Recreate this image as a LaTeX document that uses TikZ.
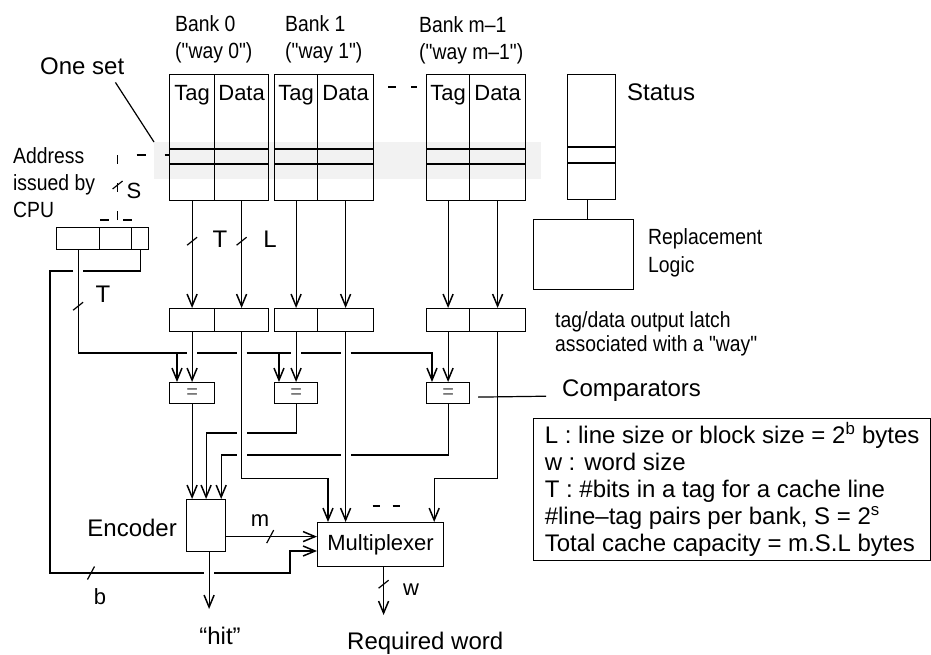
\documentclass[tikz,border=0pt]{standalone}
\usepackage{fontspec}
\setmainfont{Liberation Sans}
\newfontfamily\narrowfont[FakeStretch=0.88]{Liberation Sans}
\usetikzlibrary{positioning, arrows.meta, calc}

\tikzset{
  wire/.style={line width=1.2pt},
  arr/.style={wire, -{Straight Barb[length=12pt, width=10pt, line width=1.5pt]}},
  cell/.style={draw, line width=1.2pt, inner sep=0pt, anchor=north west},
  bankcol/.style={cell, minimum height=126pt},
  latch/.style={cell, minimum height=23pt},
  cmp/.style={cell, minimum height=21pt, font=\fontsize{20}{20}\selectfont, text=black!65},
  colhead/.style={anchor=north, yshift=-11pt, inner sep=0pt, font=\fontsize{22}{22}\selectfont},
  lbl/.style={inner sep=0pt, font=\fontsize{24}{27}\selectfont},
  slbl/.style={inner sep=0pt, font=\fontsize{22}{22}\selectfont},
  nlbl/.style={inner sep=0pt, align=left, font=\narrowfont\fontsize{22}{27}\selectfont},
  band/.style={fill=black!5, inner sep=0pt, anchor=north west},
  seldash/.style={wire, dash pattern=on 9pt off 19pt},
  vmark/.pic={\draw[wire] (-5,4) -- (5,-4);},
  hmark/.pic={\draw[wire] (-3.5,6.5) -- (3.5,-6.5);}
}

\begin{document}
\begin{tikzpicture}[x=1pt, y=-1pt]
  \useasboundingbox (0,0) rectangle (931,655);

  % one set across the banks
  \node[band, minimum width=387pt, minimum height=37pt] (set) at (154,142) {};

  % cache banks
  \node[bankcol, minimum width=45pt, label={[colhead]north:Tag}]  (tag0)  at (169,74) {};
  \node[bankcol, minimum width=54pt, label={[colhead]north:Data}] (data0) at (214,74) {};
  \node[bankcol, minimum width=43pt, label={[colhead]north:Tag}]  (tag1)  at (274,74) {};
  \node[bankcol, minimum width=56pt, label={[colhead]north:Data}] (data1) at (317,74) {};
  \node[bankcol, minimum width=43pt, label={[colhead]north:Tag}]  (tagm)  at (426,74) {};
  \node[bankcol, minimum width=56pt, label={[colhead]north:Data}] (datam) at (469,74) {};
  \foreach \b in {0,1,m}
    \foreach \y in {149,164}
      \draw[wire] (tag\b.west |- 0,\y) -- (data\b.east |- 0,\y);

  \node[nlbl, anchor=north west] (bank0lbl) at (175,15) {Bank 0\\("way 0")};
  \node[nlbl, anchor=north west] (bank1lbl) at (285,15) {Bank 1\\("way 1")};
  \node[nlbl, anchor=north west] (bankmlbl) at (419,16) {Bank m–1\\("way m–1")};
  \node[lbl, anchor=base west] (setlbl) at (40,75) {One set};

  % status and replacement
  \node[cell, minimum width=48pt, minimum height=125pt] (status) at (567,74) {};
  \foreach \y in {147,163}
    \draw[wire] (status.west |- 0,\y) -- (status.east |- 0,\y);
  \node[cell, minimum width=100pt, minimum height=70pt] (repl) at (533,219) {};
  \node[lbl, anchor=base west] (statuslbl) at (627,101) {Status};
  \node[nlbl, anchor=north west, font=\narrowfont\fontsize{22}{28}\selectfont] (repllbl) at (648,228) {Replacement\\Logic};

  % address register
  \node[cell, minimum width=43pt, minimum height=22pt] (addrT) at (56,227) {};
  \node[cell, minimum width=32pt, minimum height=22pt] (addrS) at (99,227) {};
  \node[cell, minimum width=17pt, minimum height=22pt] (addrB) at (131,227) {};
  \node[nlbl, anchor=north west] (addrlbl) at (13,147) {Address\\issued by\\CPU};

  % output latches
  \node[latch, minimum width=45pt] (ltag0)  at (169,308) {};
  \node[latch, minimum width=54pt] (ldata0) at (214,308) {};
  \node[latch, minimum width=43pt] (ltag1)  at (274,308) {};
  \node[latch, minimum width=56pt] (ldata1) at (317,308) {};
  \node[latch, minimum width=43pt] (ltagm)  at (426,308) {};
  \node[latch, minimum width=56pt] (ldatam) at (469,308) {};
  \node[nlbl, anchor=north west, font=\narrowfont\fontsize{22}{24}\selectfont] (latchlbl) at (555,311) {tag/data output latch\\associated with a "way"};

  % comparators
  \node[cmp, minimum width=45pt] (comp0) at (169,382) {=};
  \node[cmp, minimum width=43pt] (comp1) at (274,382) {=};
  \node[cmp, minimum width=43pt] (compm) at (426,382) {=};
  \node[lbl, anchor=base west] (cmplbl) at (562,396) {Comparators};

  % encoder and multiplexer
  \node[cell, minimum width=39pt, minimum height=52pt] (enc) at (186,499) {};
  \node[cell, minimum width=126pt, minimum height=44pt, font=\fontsize{22}{22}\selectfont] (mux) at (317,522) {Multiplexer};
  \node[lbl, anchor=base east] (enclbl) at (177,536) {Encoder};
  \node[lbl, anchor=north] (hitlbl) at (220,627) {“hit”};
  \node[lbl, anchor=north west] (reqlbl) at (347,632) {Required word};

  % legend
  \node[cell, align=left, minimum width=397pt, minimum height=142pt, font=\fontsize{24}{27}\selectfont] (legend) at (533,418) {L : line size or block size = 2\textsuperscript{b} bytes\\
    w : word size\\
    T : \#bits in a tag for a cache line\\
    \#line–tag pairs per bank, S = 2\textsuperscript{s}\\
    Total cache capacity = m.S.L bytes};

  % bus widths
  \node[lbl] (tlbl) at (220,239) {T};
  \node[lbl] (llbl) at (270,239) {L};
  \node[lbl] (taddrlbl) at (103,294) {T};
  \node[slbl] (slbl) at (134,191) {S};
  \node[slbl] (blbl) at (100,597) {b};
  \node[slbl] (mlbl) at (260,521) {m};
  \node[slbl] (wlbl) at (411,590) {w};

  % rows where wires cross
  \coordinate (arow) at (0,271);
  \coordinate (busrow) at (0,353);
  \coordinate (row1) at (0,433);
  \coordinate (row2) at (0,455);
  \coordinate (brow) at (0,573);
  \coordinate (bus0) at (177,353);
  \coordinate (bus1) at (279,353);

  % offset bits to the multiplexer
  \draw[wire] (addrB.south) |- ($(addrT.south |- arow)+(5,0)$);
  \draw[wire] ($(addrT.south |- arow)+(-5,0)$) -- (50,271) |- ($(enc.south |- brow)+(-2,0)$);
  \draw[arr] ($(enc.south |- brow)+(8,0)$) -- (290,573) |- (mux.west |- 0,551);

  % tag bits to the comparators
  \draw[wire] (addrT.south) |- ($(ltag0.south |- busrow)+(-5,0)$);
  \foreach \a/\c in {ltag0/ldata0, ldata0/ltag1, ltag1/ldata1}
    \draw[wire] ($(\a.south |- busrow)+(5,0)$) -- ($(\c.south |- busrow)+(-5,0)$);
  \draw[arr] ($(ldata1.south |- busrow)+(5,0)$) -| ($(compm.north west)+(6,0)$);
  \draw[arr] (bus0) -- (bus0 |- comp0.north);
  \draw[arr] (bus1) -- (bus1 |- comp1.north);

  % banks to latches, latched tags to comparators
  \foreach \c in {tag0,data0,tag1,data1,tagm,datam}
    \draw[arr] (\c.south) -- (l\c.north);
  \foreach \b in {0,1,m}
    \draw[arr] (ltag\b.south) -- (comp\b.north);

  % comparators to encoder
  \draw[arr] (comp0.south) -- (comp0.south |- enc.north);
  \draw[wire] (comp1.south) |- ($(ldata0.south |- row1)+(5,0)$);
  \draw[arr] ($(ldata0.south |- row1)+(-5,0)$) -| (enc.north);
  \draw[wire] (compm.south) |- ($(ldata1.south |- row2)+(5,0)$);
  \draw[wire] ($(ldata1.south |- row2)+(-5,0)$) -- ($(ldata0.south |- row2)+(5,0)$);
  \draw[arr] ($(ldata0.south |- row2)+(-5,0)$) -| ($(enc.north east)+(-5,0)$);

  % latched data into multiplexer
  \draw[arr] (ldata0.south) -- ++(0,146) -| ($(mux.north west)+(11,0)$);
  \draw[arr] (ldata1.south) -- (ldata1.south |- mux.north);
  \draw[arr] (ldatam.south) -- ++(0,146) -| ($(mux.north east)+(-10,0)$);

  % encoder outputs
  \draw[arr] ($(enc.east)+(0,11)$) -- ($(enc.east -| mux.west)+(0,11)$);
  \draw[arr] ($(enc.south)+(3,0)$) -- ($(enc.south |- hitlbl.north)+(3,-18)$);
  \draw[arr] ($(mux.south)+(3,0)$) -- ($(mux.south |- reqlbl.north)+(3,-17)$);

  \draw[wire] ($(status.south)+(-4,0)$) -- ($(status.south |- repl.north)+(-4,0)$);
  \draw[wire] ($(setlbl.south east)+(-9,7)$) -- (set.north west);
  \draw[wire, shorten >=16pt] ($(compm.east)+(8,4)$) -- (cmplbl.base west);

  % set index selection
  \coordinate (sel) at ($(addrS.north)+(2,-7)$);
  \draw[wire, dash pattern=on 9pt off 14pt] ($(addrS.north west)+(1,-7)$) -- ($(addrS.north east)+(1,-7)$);
  \draw[seldash] (sel) |- (tag0.west |- 0,155);
  \draw[wire, dash pattern=on 8pt off 15pt] ($(data1.north east)+(14,13)$) -- ($(tagm.north west)+(-9,13)$);
  \draw[wire, dash pattern=on 7pt off 13pt] ($(mux.north)+(-8,-16)$) -- ($(mux.north)+(19,-16)$);

  \pic at ($(tag0.south)+(0,40)$) {vmark};
  \pic at ($(data0.south)+(0,40)$) {vmark};
  \pic at ($(addrT.south)+(0,56)$) {vmark};
  \pic at ($(sel)+(0,-35)$) {vmark};
  \pic at (91,573) {hmark};
  \pic at ($(enc.east)+(44,11)$) {hmark};
  \pic at ($(mux.south)+(3,17)$) {vmark};
\end{tikzpicture}
\end{document}
